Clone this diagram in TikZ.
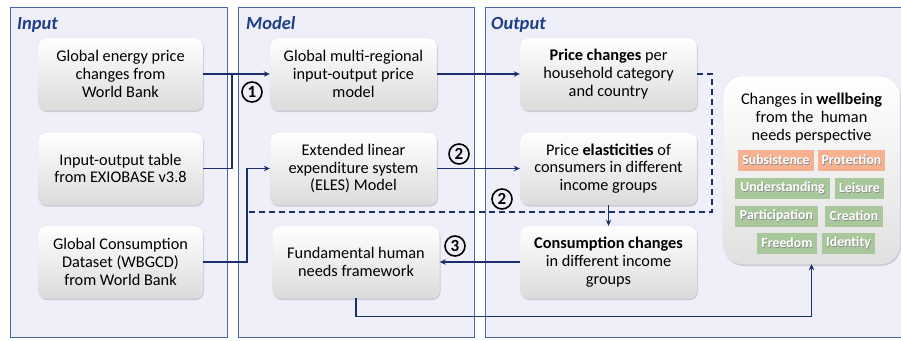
\documentclass[tikz,border=0pt]{standalone}
\usepackage{fontspec}
\setmainfont{Carlito}
\usetikzlibrary{arrows.meta,shadows}

\definecolor{panelfill}{HTML}{EEEFF9}
\definecolor{panelline}{HTML}{4B68A6}
\definecolor{titleblue}{HTML}{1F3E8A}
\definecolor{flow}{HTML}{1B2F6E}
\definecolor{tagorange}{HTML}{F6B190}
\definecolor{taggreen}{HTML}{A8C79A}

% white label word with a soft dark shadow behind it
\newcommand\tagword[1]{\leavevmode\rlap{\hspace{0.7pt}\raisebox{-0.7pt}{\textcolor{black!45}{#1}}}#1}

\begin{document}
\begin{tikzpicture}[x=1pt,y=-1pt,
  panel/.style={draw=panelline, fill=panelfill, line width=0.8pt},
  paneltitle/.style={font=\fontsize{18.5}{20}\selectfont\bfseries\itshape,
    text=titleblue, anchor=base west, inner sep=0},
  stepbox/.style={rounded corners=8pt, top color=white, bottom color=black!14,
    draw=black!10, line width=0.4pt,
    drop shadow={shadow xshift=1pt, shadow yshift=-2pt, opacity=0.3},
    minimum height=72pt, align=center, inner sep=0,
    font=\fontsize{16.3}{17.8}\selectfont},
  wellbox/.style={rounded corners=20pt, top color=white, bottom color=black!12,
    draw=black!10, line width=0.4pt,
    drop shadow={shadow xshift=1pt, shadow yshift=-2pt, opacity=0.3},
    minimum width=177pt, minimum height=188pt, inner sep=0},
  tag/.style={minimum height=21pt, inner sep=0, text=white,
    font=\fontsize{13.8}{15}\selectfont\bfseries},
  orangetag/.style={tag, fill=tagorange},
  greentag/.style={tag, fill=taggreen},
  flowline/.style={draw=flow, line width=1.2pt},
  flowarrow/.style={flowline, -{Stealth[length=6pt,width=5.5pt]}},
  flowdash/.style={flowline, dash pattern=on 6pt off 4pt},
  numcirc/.style={circle, draw=black, line width=1.6pt, minimum size=20pt,
    inner sep=0, font=\fontsize{17}{17}\selectfont\bfseries}
]
\useasboundingbox (0,0) rectangle (901,340);

% panels
\path[panel] (10,7) rectangle (227,337);
\path[panel] (238,7) rectangle (474,337);
\path[panel] (485,7) rectangle (905,337);
\node[paneltitle] (tin) at (17,29) {Input};
\node[paneltitle] (tmo) at (246,29) {Model};
\node[paneltitle] (tout) at (491,29) {Output};

% input boxes
\node[stepbox, minimum width=165pt] (in1) at (120.5,74)
  {Global energy price\\changes from\\World Bank};
\node[stepbox, minimum width=165pt] (in2) at (120.5,168.5)
  {Input-output table\\from EXIOBASE v3.8};
\node[stepbox, minimum width=165pt] (in3) at (120.5,262)
  {Global Consumption\\Dataset (WBGCD)\\from World Bank};

% model boxes
\node[stepbox, minimum width=167pt] (mo1) at (353.5,74)
  {Global multi-regional\\input-output price\\model};
\node[stepbox, minimum width=167pt] (mo2) at (353.5,168.5)
  {Extended linear\\expenditure system\\(ELES) Model};
\node[stepbox, minimum width=167pt] (mo3) at (356,262)
  {Fundamental human\\needs framework};

% output boxes
\node[stepbox, minimum width=177pt] (out1) at (608.5,74)
  {\textbf{Price changes} per\\household category\\and country};
\node[stepbox, minimum width=177pt] (out2) at (608.5,168.5)
  {Price \textbf{elasticities} of\\consumers in different\\income groups};
\node[stepbox, minimum width=177pt] (out3) at (608.5,262)
  {\textbf{Consumption changes}\\in different income\\groups};

% wellbeing summary
\node[wellbox] (wb) at (811.5,170) {};
\node[align=center, inner sep=0, font=\fontsize{16.3}{17.8}\selectfont] (wbt) at (811.5,118)
  {Changes in \textbf{wellbeing}\\from the\ \ human\\needs perspective};
\node[orangetag, minimum width=76pt] (n1) at (776,160.5) {\tagword{Subsistence}};
\node[orangetag, minimum width=67pt] (n2) at (851.5,160.5) {\tagword{Protection}};
\node[greentag, minimum width=95pt] (n3) at (782.5,188) {\tagword{Understanding}};
\node[greentag, minimum width=49pt] (n4) at (859.5,188) {\tagword{Leisure}};
\node[greentag, minimum width=83pt] (n5) at (776.5,216) {\tagword{Participation}};
\node[greentag, minimum width=58pt] (n6) at (854,216) {\tagword{Creation}};
\node[greentag, minimum width=60pt] (n7) at (787,243.5) {\tagword{Freedom}};
\node[greentag, minimum width=53pt] (n8) at (848.5,243.5) {\tagword{Identity}};

% junction points of the connectors
\coordinate (j1) at (232,74);
\coordinate (j2) at (247,262);
\coordinate (d1) at (712,74);
\coordinate (d2) at (712,212);
\coordinate (d3) at (247,212);

% connectors
\draw[flowarrow] (in1.east) -- (mo1.west);
\draw[flowline] (in2.east) -| (j1);
\draw[flowarrow] (in3.east) -- (j2) |- (mo2.west);
\draw[flowarrow] (mo1.east) -- (out1.west);
\draw[flowarrow] (mo2.east) -- (out2.west);
\draw[flowdash] (out1.east) -- (d1) -- (d2) -- (d3);
\draw[flowarrow] (out2.south) -- (out3.north);
\draw[flowarrow] (out3.west) -- (mo3.east);
\draw[flowarrow] (mo3.south) -- ++(0,18) -| (wb.south);

% step numbers
\node[numcirc] (c1) at (252,92) {1};
\node[numcirc] (c2) at (459,154) {2};
\node[numcirc] (c3) at (502,199) {2};
\node[numcirc] (c4) at (455,246) {3};
\end{tikzpicture}
\end{document}
